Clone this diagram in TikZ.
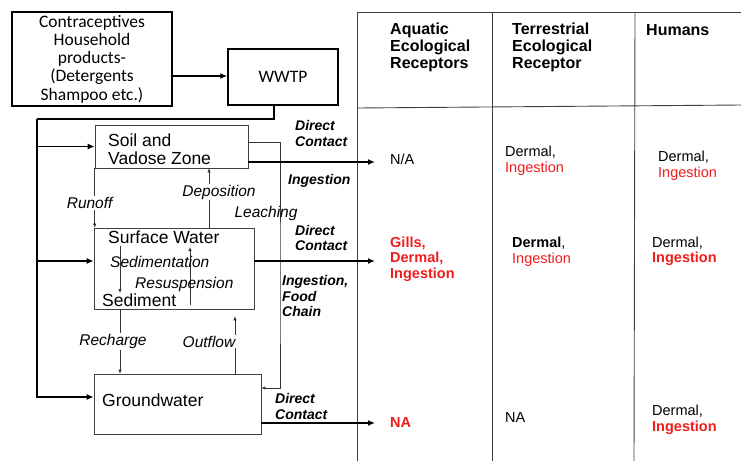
\documentclass[tikz,border=0pt]{standalone}
\usepackage{fontspec}
\setmainfont{Liberation Sans}
\newfontfamily\calibfont{Carlito}
\usetikzlibrary{arrows.meta, positioning, calc}
\definecolor{exposred}{RGB}{240,28,28}

\begin{document}
\begin{tikzpicture}[x=1pt, y=-1pt,
    srcbox/.style={draw=black, line width=1.5pt, inner sep=0pt, font=\calibfont\fontsize{17.5}{18.3}\selectfont, align=center},
    mediabox/.style={draw=black!75, line width=0.7pt, inner sep=0pt},
    medialabel/.style={font=\fontsize{17.5}{18.5}\selectfont, inner sep=0pt, anchor=west},
    flowlabel/.style={font=\itshape\fontsize{15.5}{17}\selectfont, inner sep=1pt},
    routelabel/.style={font=\bfseries\itshape\fontsize{14}{15.5}\selectfont, align=left, anchor=west, inner sep=0pt},
    thickline/.style={line width=1.6pt},
    thickarrow/.style={line width=1.8pt, -{Latex[length=7pt,width=6pt]}},
    thinarrow/.style={draw=black!80, line width=0.6pt, -{Latex[length=4pt,width=3.5pt]}},
    headtext/.style={font=\bfseries\fontsize{16}{17}\selectfont, align=left, anchor=west, inner sep=0pt},
    celltext/.style={font=\fontsize{14.5}{15.5}\selectfont, align=left, anchor=west, inner sep=0pt},
    tableline/.style={draw=black!75, line width=0.9pt}
]
\useasboundingbox (0,0) rectangle (741,461);

% Sources
\node[srcbox, minimum width=160pt, minimum height=94pt] (source) at (92,59) {Contraceptives\\Household\\products-\\(Detergents\\Shampoo etc.)};
\node[srcbox, minimum width=110pt, minimum height=56pt] (wwtp) at (283,77) {WWTP};
\draw[thickarrow] (source.east |- 0,76) -- (wwtp.west |- 0,76);

% Media boxes
\node[mediabox, minimum width=153pt, minimum height=43pt] (soil) at (171.5,146.5) {};
\node[mediabox, minimum width=160pt, minimum height=81pt] (surf) at (174,268.5) {};
\node[mediabox, minimum width=167pt, minimum height=60pt] (ground) at (177.5,404) {};

\node[medialabel, align=left] (soiltext) at (108,149) {Soil and\\Vadose Zone};
\node[medialabel] (swtext) at (108,237) {Surface Water};
\node[medialabel] (sedtext) at (102,300) {Sediment};
\node[medialabel] (gwtext) at (102,400) {Groundwater};

% Trunk from WWTP
\coordinate (trunktop) at (37,119);
\coordinate (swin) at ([yshift=7.5pt]surf.west);
\coordinate (gwin) at ([yshift=7pt]ground.west);
\draw[thickline] ([xshift=-9pt]wwtp.south) |- (trunktop);
\draw[thickarrow] (trunktop) |- (gwin);
\draw[thickarrow] (trunktop |- soil.west) -- (soil.west);
\draw[thickarrow] (swin -| trunktop) -- (swin);

% Transfers between media
\draw[thinarrow] (soil.south west) -- (soil.south west |- surf.north)
    node[flowlabel, midway, fill=white, xshift=-5pt, yshift=-5pt] (runofflabel) {Runoff};
\coordinate (depx) at (209,0);
\draw[thinarrow] (surf.north -| depx) -- (soil.south -| depx)
    node[flowlabel, pos=0.6, fill=white, xshift=10pt] (deplabel) {Deposition};
\coordinate (leachc) at (280,300);
\draw[thinarrow] ([yshift=4.5pt]soil.east) -| (leachc) |- ([yshift=16pt]ground.east);
\node[flowlabel] (leachlabel) at (266,213) {Leaching};

\draw[thinarrow] (120,246) -- (120,293);
\draw[thinarrow] (190,305) -- (190,247);
\node[flowlabel, anchor=west, inner sep=0pt] (sedlabel) at (110,262) {Sedimentation};
\node[flowlabel, anchor=west, inner sep=0pt] (reslabel) at (135,284) {Resuspension};

\draw[thinarrow] ([xshift=-54pt]surf.south) -- ([xshift=-54pt]surf.south |- ground.north)
    node[flowlabel, midway, fill=white, xshift=-7pt] (rechlabel) {Recharge};
\draw[thinarrow, shorten >=7pt] ([xshift=57.5pt]ground.north) -- ([xshift=57.5pt]ground.north |- surf.south)
    node[flowlabel, midway, fill=white, xshift=-26pt] (outlabel) {Outflow};

% Exposure routes
\node[routelabel] (route1) at (295,133.5) {Direct\\Contact};
\node[routelabel] (route2) at (288,181) {Ingestion};
\node[routelabel] (route3) at (295,238) {Direct\\Contact};
\node[routelabel] (route4) at (282,296) {Ingestion,\\Food\\Chain};
\node[routelabel] (route5) at (275,406.5) {Direct\\Contact};

% Table
\draw[tableline] (357,12) -- (741,12);
\draw[tableline] (357,108) -- (741,105);
\draw[tableline] (357,12) -- (357,461);
\draw[tableline] (492,12) -- (492,461);
\draw[tableline] (635,12) -- (634,461);

\node[headtext] (aquahead) at (390,47) {Aquatic\\Ecological\\Receptors};
\node[headtext] (terrhead) at (512,47) {Terrestrial\\Ecological\\Receptor};
\node[headtext] (humhead) at (646,30) {Humans};

\node[celltext] (aqua1) at (390,159) {N/A};
\node[celltext] (terr1) at (505,160.5) {Dermal,\\\textcolor{exposred}{Ingestion}};
\node[celltext] (hum1) at (658,165.5) {Dermal,\\\textcolor{exposred}{Ingestion}};
\node[celltext, font=\bfseries\fontsize{14.5}{15.5}\selectfont, text=exposred] (aqua2) at (390,259) {Gills,\\Dermal,\\Ingestion};
\node[celltext] (terr2) at (512,251.5) {\textbf{Dermal},\\\textcolor{exposred}{Ingestion}};
\node[celltext] (hum2) at (652,251.5) {Dermal,\\\textcolor{exposred}{\textbf{Ingestion}}};
\node[celltext, font=\bfseries\fontsize{14.5}{15.5}\selectfont, text=exposred] (aqua3) at (390,423) {NA};
\node[celltext] (terr3) at (505,418) {NA};
\node[celltext] (hum3) at (652,420) {Dermal,\\\textcolor{exposred}{\textbf{Ingestion}}};

\coordinate (soilout) at ([yshift=-15.5pt]soil.east);
\draw[thickarrow, shorten >=15pt] (soilout) -- (aqua1.west |- soilout);
\draw[thickarrow, shorten >=15pt] ([yshift=7.5pt]surf.east) -- (aqua2.west |- swin);
\draw[thickarrow, shorten >=15pt] ([yshift=-19pt]ground.east) -- (aqua3.west);
\end{tikzpicture}
\end{document}
